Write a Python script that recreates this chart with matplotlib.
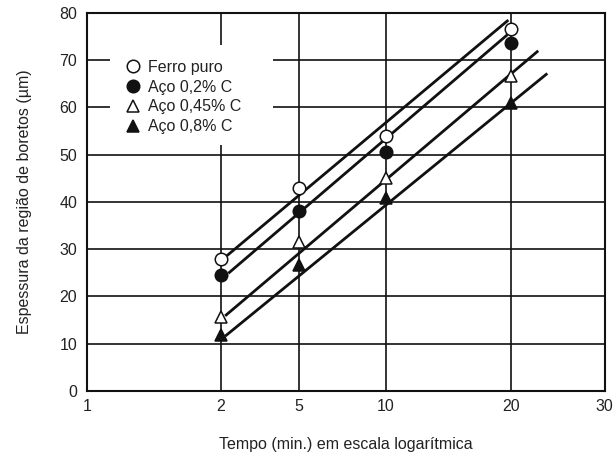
# encoding:utf-8
# espessura da camada de boretos vs tempo (escala log irregular do original)

import numpy as np
import matplotlib
matplotlib.use('Agg')
import matplotlib.pyplot as plt
from matplotlib.patches import Rectangle


TEMPO = [2, 5, 10, 20]
FERRO_PURO = [28, 43, 54, 76.7]
ACO_02 = [24.5, 38, 50.6, 73.7]
ACO_045 = [15.7, 31.6, 45, 66.7]
ACO_08 = [11.8, 26.7, 40.8, 61]

# retas ajustadas (inicio, fim)
FERRO_PURO_FIT_T = [2.15, 19.7]
FERRO_PURO_FIT_Y = [28.6, 78.5]
ACO_02_FIT_T = [2.19, 19.6]
ACO_02_FIT_Y = [24.9, 75.4]
ACO_045_FIT_T = [2.11, 22.5]
ACO_045_FIT_Y = [15.9, 72.0]
ACO_08_FIT_T = [2.11, 23.4]
ACO_08_FIT_Y = [11.6, 67.2]

X_TICKS = [1, 2, 5, 10, 20, 30]
Y_TICKS = [0, 10, 20, 30, 40, 50, 60, 70, 80]

# where each x tick sits along the axis in the original drawing
X_TICK_FRAC = [0.0, 0.258, 0.4097, 0.5768, 0.8193, 1.0]


def forward(x):
    x = np.clip(np.asarray(x, dtype=float), 1e-6, None)
    return np.interp(np.log10(x), np.log10(X_TICKS), X_TICK_FRAC,
                     left=-1, right=2)

def inverse(f):
    return 10 ** np.interp(f, X_TICK_FRAC, np.log10(X_TICKS))


plt.rcParams['font.family'] = ['Liberation Sans', 'DejaVu Sans']
TEXT = '#222222'

fig = plt.figure(figsize=(6.14, 4.54), dpi=100)
ax = fig.add_axes([0.1417, 0.1388, 0.843, 0.8326])
ax.set_xscale('function', functions=(forward, inverse))
ax.set_xlim(1, 30)
ax.set_ylim(0, 80)
ax.set_xticks(X_TICKS)
ax.set_xticklabels([str(t) for t in X_TICKS])
ax.set_yticks(Y_TICKS)
ax.minorticks_off()
ax.tick_params(length=0, labelsize=11.5, labelcolor=TEXT)
ax.tick_params(axis='y', pad=7)
ax.tick_params(axis='x', pad=6)
ax.grid(True, color='#111111', linewidth=1.2, zorder=1)
ax.set_axisbelow(True)
for sp in ax.spines.values():
    sp.set_linewidth(1.5)
    sp.set_color('#111111')

# fundo branco da legenda por cima da grade
ax.add_patch(Rectangle((0.044, 0.651), 0.315, 0.264, transform=ax.transAxes,
                       facecolor='white', edgecolor='none', zorder=1.5))

for ft, fy in [(FERRO_PURO_FIT_T, FERRO_PURO_FIT_Y), (ACO_02_FIT_T, ACO_02_FIT_Y),
               (ACO_045_FIT_T, ACO_045_FIT_Y), (ACO_08_FIT_T, ACO_08_FIT_Y)]:
    ax.plot(ft, fy, color='#111111', linewidth=2.0, zorder=3, solid_capstyle='butt')

ax.plot(TEMPO, FERRO_PURO, 'o', ms=9, mfc='white', mec='#111111', mew=1.1,
        linestyle='none', zorder=4, label='Ferro puro')
ax.plot(TEMPO, ACO_02, 'o', ms=9, mfc='#111111', mec='#111111', mew=1.1,
        linestyle='none', zorder=4, label='Aço 0,2% C')
ax.plot(TEMPO, ACO_045, '^', ms=9, mfc='white', mec='#111111', mew=1.1,
        linestyle='none', zorder=4, label='Aço 0,45% C')
ax.plot(TEMPO, ACO_08, '^', ms=9, mfc='#111111', mec='#111111', mew=1.1,
        linestyle='none', zorder=4, label='Aço 0,8% C')

leg = ax.legend(loc='upper left', bbox_to_anchor=(0.074, 0.876), frameon=False,
                fontsize=11.5, handlelength=1.0, handletextpad=0.45,
                labelspacing=0.3, borderpad=0, borderaxespad=0)
for t in leg.get_texts():
    t.set_color(TEXT)

ax.set_xlabel('Tempo (min.) em escala logarítmica', fontsize=11.5, color=TEXT, labelpad=16)
ax.set_ylabel('Espessura da região de boretos (µm)', fontsize=11.5, color=TEXT, labelpad=20)

fig.savefig('out.png', dpi=100)
